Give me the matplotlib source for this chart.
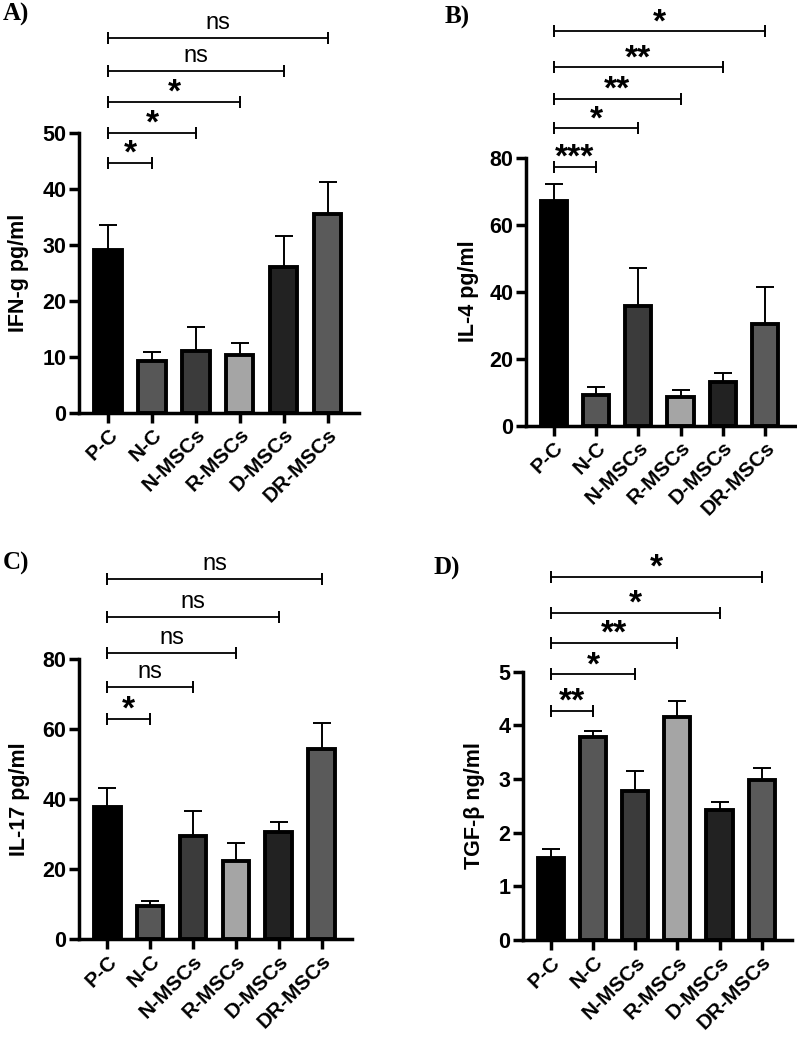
import numpy as np
import matplotlib
matplotlib.use('Agg')
from matplotlib import pyplot as plt

plt.rcParams['font.family'] = ['Liberation Sans', 'DejaVu Sans']
plt.rcParams['font.weight'] = 'bold'

groups = ['P-C', 'N-C', 'N-MSCs', 'R-MSCs', 'D-MSCs', 'DR-MSCs']
bar_colors = ['#000000', '#575757', '#3b3b3b', '#a5a5a5', '#222222', '#5a5a5a']

ifng_mean = [29.0, 9.2, 11.0, 10.3, 26.0, 35.5]
ifng_err = [4.5, 1.6, 4.3, 2.2, 5.5, 5.7]
il4_mean = [67.0, 9.2, 35.7, 8.7, 13.0, 30.4]
il4_err = [5.2, 2.4, 11.3, 2.0, 2.6, 11.1]
il17_mean = [37.8, 9.5, 29.5, 22.3, 30.5, 54.2]
il17_err = [5.4, 1.4, 7.1, 5.0, 3.0, 7.6]
tgfb_mean = [1.52, 3.78, 2.78, 4.15, 2.42, 2.98]
tgfb_err = [0.17, 0.12, 0.37, 0.31, 0.16, 0.22]

# significance vs P-C for N-C, N-MSCs, R-MSCs, D-MSCs, DR-MSCs
ifng_sig = ['*', '*', '*', 'ns', 'ns']
il4_sig = ['***', '*', '**', '**', '*']
il17_sig = ['*', 'ns', 'ns', 'ns', 'ns']
tgfb_sig = ['**', '*', '**', '*', '*']

ifng_brackets = [44.7, 50.0, 55.6, 61.0, 67.0]
il4_brackets = [77.3, 88.8, 97.5, 107.0, 117.7]
il17_brackets = [63.0, 72.0, 81.8, 92.0, 102.8]
tgfb_brackets = [4.27, 4.95, 5.54, 6.10, 6.77]


def drawPanel(rect, means, errs, sigs, levels, ylabel, ymax, ystep,
              letter, letter_xy, label_x):
    ax = fig.add_axes(rect)
    x = np.arange(len(groups))
    ax.bar(x, means, width=0.62, color=bar_colors, edgecolor='black',
           linewidth=2.8, zorder=3)
    ax.errorbar(x, means, yerr=[np.zeros(len(errs)), errs], fmt='none',
                ecolor='black', elinewidth=1.4, capsize=6.5, capthick=1.4,
                zorder=2)
    ax.set_xlim(-0.66, 5.71)
    ax.set_ylim(0, ymax)
    ax.set_yticks(np.arange(0, ymax + ystep / 2, ystep))
    ax.set_xticks(x)
    ax.set_xticklabels(groups, rotation=45, ha='right',
                       rotation_mode='anchor', fontsize=15, fontweight='bold')
    for lab in ax.get_yticklabels():
        lab.set_fontsize(15.5)
        lab.set_fontweight('bold')
    ax.spines['top'].set_visible(False)
    ax.spines['right'].set_visible(False)
    ax.spines['left'].set_linewidth(2.5)
    ax.spines['bottom'].set_linewidth(2.5)
    ax.tick_params(width=2.5, length=7, pad=2)
    ax.set_ylabel(ylabel, fontsize=15.5, fontweight='bold')
    ax.yaxis.set_label_coords(label_x, 0.5)

    for k, (s, y) in enumerate(zip(sigs, levels)):
        j = k + 1
        ax.plot([0, j], [y, y], color='black', lw=1.3, clip_on=False)
        ax.plot([0, j], [y, y], ls='none', marker='|', ms=9, mew=1.4,
                color='black', clip_on=False)
        if s == 'ns':
            ax.annotate(s, xy=(j / 2, y), xytext=(0, 3),
                        textcoords='offset points', ha='center',
                        va='bottom', fontsize=17, fontweight='normal',
                        annotation_clip=False)
        else:
            ax.annotate(s, xy=(j / 2, y), xytext=(0, -5),
                        textcoords='offset points', ha='center',
                        va='bottom', fontsize=24, fontweight='bold',
                        annotation_clip=False)

    fig.text(letter_xy[0], letter_xy[1], letter, fontsize=18,
             fontweight='bold', family='Liberation Serif',
             ha='center', va='center')
    return ax


if __name__ == '__main__':
    fig = plt.figure(figsize=(7.97, 10.38), dpi=100)
    drawPanel([0.0991, 0.6024, 0.3513, 0.2695], ifng_mean, ifng_err,
              ifng_sig, ifng_brackets, 'IFN-g pg/ml', 50, 10,
              'A)', (16 / 797, 1 - 14 / 1038), -0.18)
    drawPanel([0.660, 0.5899, 0.3375, 0.2582], il4_mean, il4_err,
              il4_sig, il4_brackets, 'IL-4 pg/ml', 80, 20,
              'B)', (457 / 797, 1 - 17 / 1038), -0.175)
    drawPanel([0.0991, 0.0954, 0.3426, 0.2697], il17_mean, il17_err,
              il17_sig, il17_brackets, 'IL-17 pg/ml', 80, 20,
              'C)', (16 / 797, 1 - 563 / 1038), -0.18)
    drawPanel([0.6562, 0.0944, 0.3371, 0.2585], tgfb_mean, tgfb_err,
              tgfb_sig, tgfb_brackets, 'TGF-β ng/ml', 5, 1,
              'D)', (447 / 797, 1 - 568 / 1038), -0.14)
    fig.savefig('out.png', dpi=100)
